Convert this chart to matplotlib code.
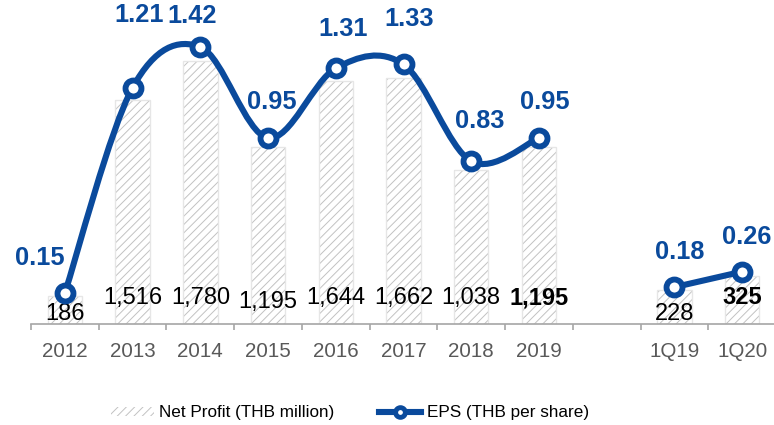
import numpy as np
import matplotlib.pyplot as plt
from matplotlib.path import Path
from matplotlib.patches import PathPatch, Patch
from matplotlib.lines import Line2D

plt.rcParams['font.family'] = ['Liberation Sans', 'DejaVu Sans']
plt.rcParams['hatch.linewidth'] = 0.7

# dados
categorias = ['2012', '2013', '2014', '2015', '2016', '2017', '2018', '2019', '', '1Q19', '1Q20']
anos_pos = [0, 1, 2, 3, 4, 5, 6, 7]
trim_pos = [9, 10]
lucro_anos = [186, 1516, 1780, 1195, 1644, 1662, 1038, 1195]
lucro_trim = [228, 325]
eps_anos = [0.15, 1.21, 1.42, 0.95, 1.31, 1.33, 0.83, 0.95]
eps_trim = [0.18, 0.26]

AZUL = '#0A4A9C'
HATCH = '#C2C2C2'
BORDA = '#E6E6E6'


def curva_suave(xs, ys):
    # bezier estilo Excel (Catmull-Rom) passando pelos pontos
    pts = np.column_stack([xs, ys]).astype(float)
    verts = [pts[0]]
    codes = [Path.MOVETO]
    n = len(pts)
    for i in range(n - 1):
        p0 = pts[i - 1] if i > 0 else pts[i]
        p1 = pts[i]
        p2 = pts[i + 1]
        p3 = pts[i + 2] if i + 2 < n else pts[i + 1]
        c1 = p1 + (p2 - p0) / 6.0
        c2 = p2 - (p3 - p1) / 6.0
        verts += [c1, c2, p2]
        codes += [Path.CURVE4] * 3
    return Path(verts, codes)


fig = plt.figure(figsize=(7.74, 4.25), dpi=100)
ax = fig.add_axes([31 / 774, 101 / 425, 745 / 774, 324 / 425])

# barras (hachura + borda clara por cima)
pos_barras = anos_pos + trim_pos
val_barras = lucro_anos + lucro_trim
ax.bar(pos_barras, val_barras, width=0.51, color='white', edgecolor=HATCH,
       hatch='////', linewidth=0, zorder=1)
ax.bar(pos_barras, val_barras, width=0.51, facecolor='none', edgecolor=BORDA,
       linewidth=1.0, zorder=1.5)
ax.set_xlim(-0.5, 10.5)
ax.set_ylim(0, 2189)

# rótulos das barras (deslocamento em pontos acima do eixo)
desloc_barras = [7, 19, 19, 16, 19, 19, 19, 19, 7.5, 19]
negrito = [False] * 7 + [True, False, True]
for x, v, dy, b in zip(pos_barras, val_barras, desloc_barras, negrito):
    ax.annotate(f'{v:,}', xy=(x, 0), xytext=(0, dy), textcoords='offset points',
                ha='center', va='center', fontsize=17,
                fontweight='bold' if b else 'normal', color='black', zorder=5)

# eixo x
for s in ['top', 'right', 'left']:
    ax.spines[s].set_visible(False)
ax.spines['bottom'].set_color('#A6A6A6')
ax.spines['bottom'].set_linewidth(1.2)
ax.set_yticks([])
ax.set_xticks(np.arange(-0.5, 10.6, 1.0))
ax.set_xticklabels([])
ax.tick_params(axis='x', which='major', length=4.5, color='#A6A6A6', width=1.2)
ax.set_xticks(range(len(categorias)), minor=True)
ax.set_xticklabels(categorias, minor=True)
ax.tick_params(axis='x', which='minor', length=0, labelsize=14.8,
               labelcolor='#595959', pad=13)

# EPS
ax2 = ax.twinx()
ax2.set_ylim(-0.0103, 1.6625)
ax2.axis('off')
for xs, ys in [(anos_pos, eps_anos), (trim_pos, eps_trim)]:
    ax2.add_patch(PathPatch(curva_suave(xs, ys), facecolor='none', edgecolor=AZUL,
                            lw=4.4, capstyle='round', zorder=3))
    ax2.plot(xs, ys, linestyle='none', marker='o', markersize=11.5,
             markerfacecolor='white', markeredgecolor=AZUL, markeredgewidth=4.2,
             zorder=4, clip_on=False)

# rótulos EPS (deslocamento em pontos)
desloc_eps = [(-18, 25), (5, 52), (-6, 22), (3, 26), (5, 28), (4, 33), (6, 29), (4, 26),
              (4, 25), (3, 25)]
for x, v, (dx, dy) in zip(anos_pos + trim_pos, eps_anos + eps_trim, desloc_eps):
    ax2.annotate(f'{v:.2f}', xy=(x, v), xytext=(dx, dy), textcoords='offset points',
                 ha='center', va='center', fontsize=18.3, fontweight='bold',
                 color=AZUL, zorder=6, annotation_clip=False)

# legenda
h1 = Patch(facecolor='white', edgecolor=HATCH, hatch='////', linewidth=0)
h2 = Line2D([], [], color=AZUL, lw=4.4, marker='o', markersize=7,
            markerfacecolor='white', markeredgecolor=AZUL, markeredgewidth=3.5)
fig.legend([h1, h2], ['Net Profit (THB million)', 'EPS (THB per share)'],
           loc='center', bbox_to_anchor=(350 / 774, 1 - 413 / 425), ncol=2,
           frameon=False, fontsize=12.3, handlelength=2.5, handleheight=0.5,
           handletextpad=0.3, columnspacing=2.6)

fig.savefig('out.png', dpi=100)
